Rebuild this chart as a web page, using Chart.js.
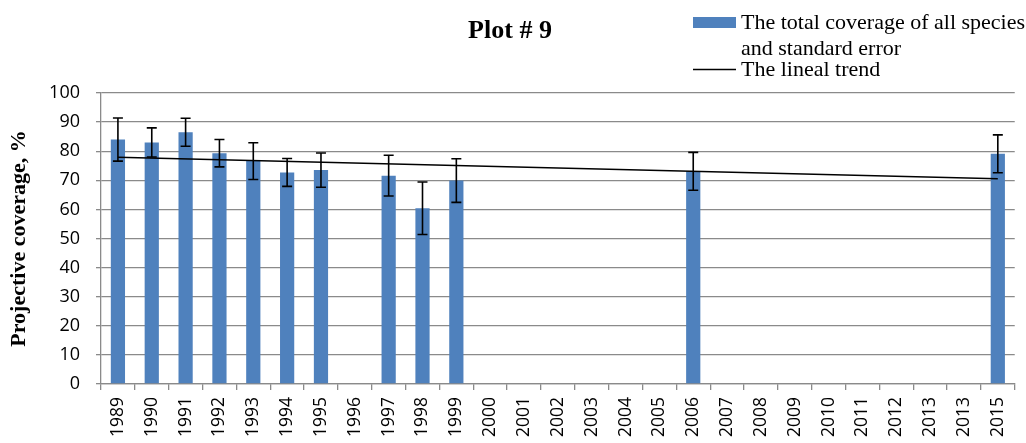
<!DOCTYPE html>
<html>
<head>
<meta charset="utf-8">
<style>
  html, body { margin: 0; padding: 0; background: #ffffff; }
  #wrap { width: 1026px; height: 443px; position: relative; }
</style>
<script src="https://cdn.jsdelivr.net/npm/chart.js@4.4.1/dist/chart.umd.min.js"></script>
</head>
<body>
<div id="wrap"><canvas id="chart" width="1026" height="443"></canvas></div>
<script>
// Survey years (axis labels as printed on the sheet)
const years = ['1989','1990','1991','1992','1993','1994','1995','1996','1997','1998','1999',
  '2000','2001','2002','2003','2004','2005','2006','2007','2008','2009','2010','2011','2012',
  '2013','2013','2015'];

// Total projective coverage of all species, %
const coverage = [84, 83, 86.5, 79.3, 76.6, 72.7, 73.5, null, 71.6, 60.4, 69.9,
  null, null, null, null, null, null, 73.1, null, null, null, null, null, null,
  null, null, 79.1];

// Standard error of the coverage
const stdError = [7.4, 5.0, 4.8, 4.7, 6.3, 4.8, 5.9, null, 7.0, 9.0, 7.5,
  null, null, null, null, null, null, 6.5, null, null, null, null, null, null,
  null, null, 6.5];

// Linear trend: values at the first and last survey years
const trend = [77.9, null, null, null, null, null, null, null, null, null, null,
  null, null, null, null, null, null, null, null, null, null, null, null, null,
  null, null, 70.5];

const yTicks = [0, 10, 20, 30, 40, 50, 60, 70, 80, 90, 100];

const BAR_COLOR = '#4f81bd';
const GRID_COLOR = '#8a8a8a';
const SERIF = '"Liberation Serif", "Times New Roman", serif';
const SANS = '"Open Sans", "Liberation Sans", sans-serif';

// Error bars with caps, drawn on top of the bars
const errorBars = {
  id: 'errorBars',
  afterDatasetsDraw(chart) {
    const meta = chart.getDatasetMeta(0);
    const y = chart.scales.y;
    const ctx = chart.ctx;
    ctx.save();
    ctx.strokeStyle = '#000000';
    ctx.lineWidth = 1.6;
    meta.data.forEach((bar, i) => {
      const v = coverage[i], e = stdError[i];
      if (v == null || e == null) return;
      const x = bar.x;
      const yHi = y.getPixelForValue(v + e);
      const yLo = y.getPixelForValue(v - e);
      const cap = 5;
      ctx.beginPath();
      ctx.moveTo(x, yHi); ctx.lineTo(x, yLo);
      ctx.moveTo(x - cap, yHi); ctx.lineTo(x + cap, yHi);
      ctx.moveTo(x - cap, yLo); ctx.lineTo(x + cap, yLo);
      ctx.stroke();
    });
    ctx.restore();
  }
};

// Heading and the two-entry key in the upper right
const headingAndKey = {
  id: 'headingAndKey',
  afterDraw(chart) {
    const ctx = chart.ctx;
    ctx.save();
    ctx.fillStyle = '#000000';
    ctx.textBaseline = 'alphabetic';
    ctx.textAlign = 'center';
    ctx.font = 'bold 26px ' + SERIF;
    ctx.fillText('Plot # 9', 510, 38);

    ctx.textAlign = 'left';
    ctx.font = '22px ' + SERIF;
    ctx.fillStyle = BAR_COLOR;
    ctx.fillRect(693, 17, 43, 11);
    ctx.fillStyle = '#000000';
    ctx.fillText('The total coverage of all species', 741, 29);
    ctx.fillText('and standard error', 741, 55);
    ctx.strokeStyle = '#000000';
    ctx.lineWidth = 1.5;
    ctx.beginPath();
    ctx.moveTo(693, 69.5); ctx.lineTo(736, 69.5);
    ctx.stroke();
    ctx.fillText('The lineal trend', 741, 76);
    ctx.restore();
  }
};

new Chart(document.getElementById('chart'), {
  data: {
    labels: years,
    datasets: [
      {
        type: 'bar',
        label: 'The total coverage of all species and standard error',
        data: coverage,
        backgroundColor: BAR_COLOR,
        borderWidth: 0,
        barPercentage: 0.42,
        categoryPercentage: 1.0,
        order: 2
      },
      {
        type: 'line',
        label: 'The lineal trend',
        data: trend,
        borderColor: '#000000',
        borderWidth: 1.5,
        pointRadius: 0,
        spanGaps: true,
        fill: false,
        order: 1
      }
    ]
  },
  options: {
    responsive: false,
    animation: false,
    devicePixelRatio: 1,
    layout: { padding: { top: 93, right: 10, left: 0, bottom: 0 } },
    plugins: {
      legend: { display: false },
      title: { display: false },
      tooltip: { enabled: false }
    },
    scales: {
      x: {
        type: 'category',
        offset: true,
        grid: {
          offset: true,
          drawOnChartArea: false,
          drawTicks: true,
          tickLength: 6,
          color: GRID_COLOR,
          lineWidth: 1.3
        },
        border: { color: GRID_COLOR, width: 1.3 },
        ticks: {
          autoSkip: false,
          maxRotation: 90,
          minRotation: 90,
          padding: 7,
          color: '#000000',
          font: { family: SANS, size: 17.5 }
        },
        afterFit(scale) { scale.height = 59; }
      },
      y: {
        min: 0,
        max: 100,
        afterBuildTicks(scale) { scale.ticks = yTicks.map(v => ({ value: v })); },
        grid: {
          color: GRID_COLOR,
          lineWidth: 1.3,
          drawTicks: true,
          tickLength: 5
        },
        border: { color: GRID_COLOR, width: 1.3 },
        ticks: {
          padding: 16,
          color: '#000000',
          font: { family: SANS, size: 18 }
        },
        title: {
          display: true,
          text: 'Projective coverage, %',
          color: '#000000',
          font: { family: SERIF, size: 22, weight: 'bold' },
          padding: { top: 6, bottom: 0 }
        },
        afterFit(scale) { scale.width = 101; }
      }
    }
  },
  plugins: [errorBars, headingAndKey]
});
</script>
</body>
</html>
